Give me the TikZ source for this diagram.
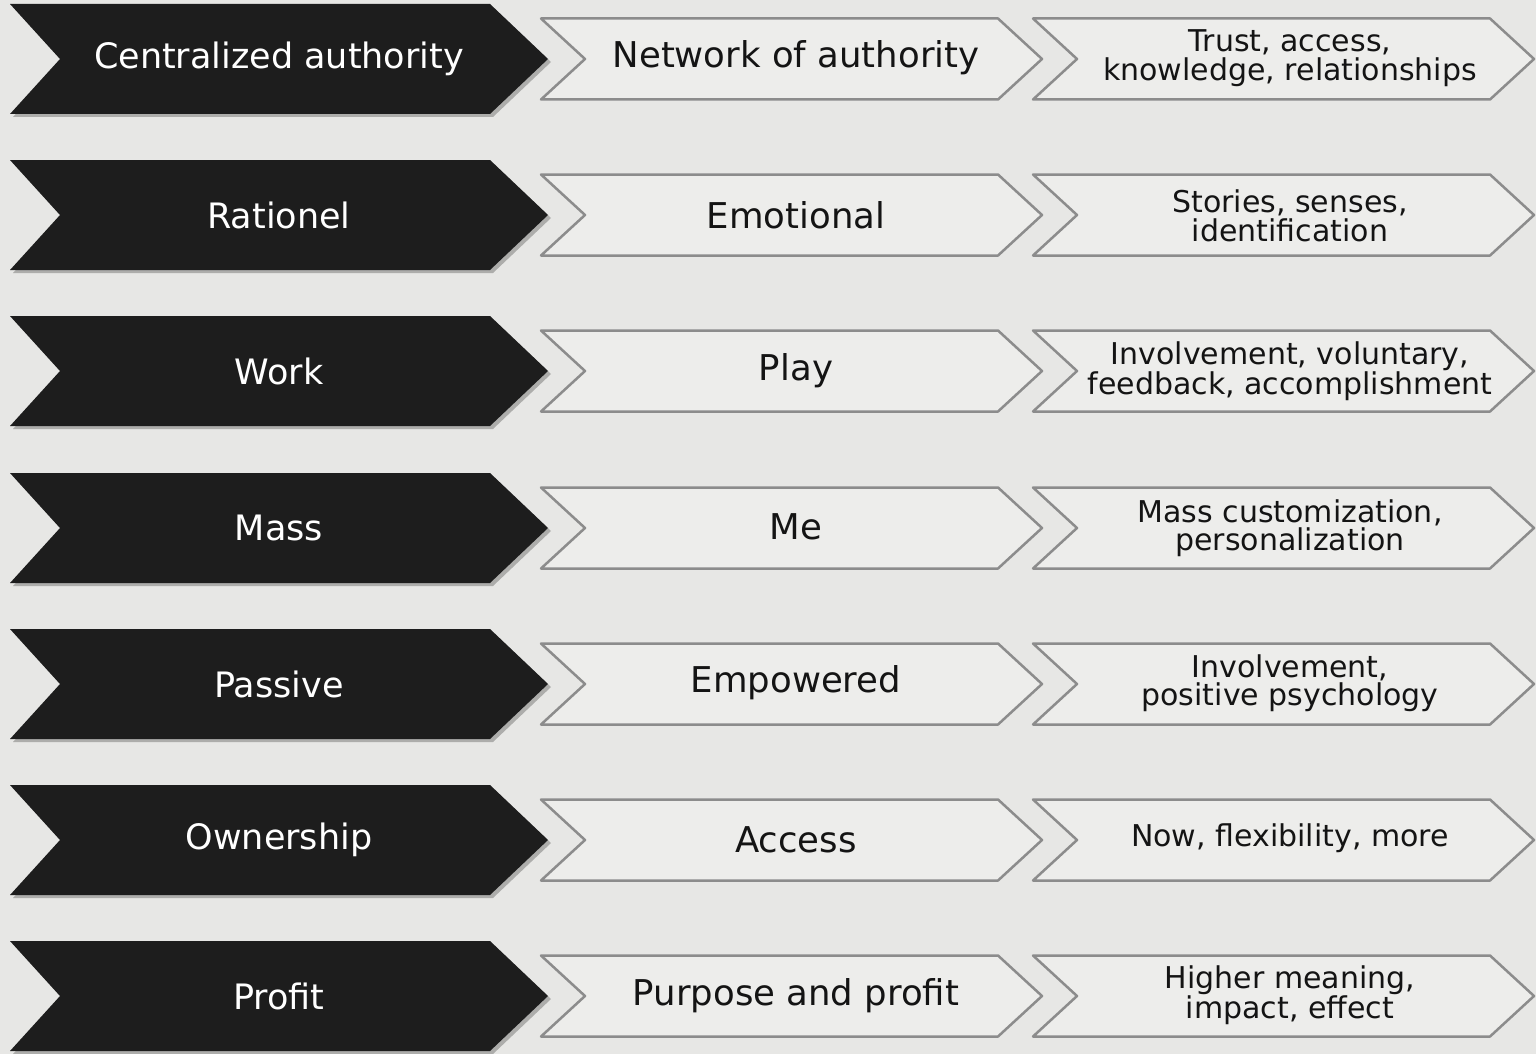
\documentclass[tikz,border=0pt]{standalone}
\usepackage{fontspec}
\setmainfont{DejaVu Sans}
\usetikzlibrary{calc}
\definecolor{paper}{HTML}{E7E7E5}
\definecolor{inkdark}{HTML}{1D1D1D}
\definecolor{rim}{HTML}{8C8C8C}
\definecolor{pale}{HTML}{EDEDEB}
\tikzset{
  darklabel/.style={text=white, font=\fontsize{35}{40}\selectfont, inner sep=0pt},
  midlabel/.style={text=black!92, font=\fontsize{35.5}{40}\selectfont, inner sep=0pt},
  sidelabel/.style={text=black!92, font=\fontsize{30}{28.5}\selectfont, align=center, inner sep=0pt}
}
\newcommand{\darkchev}[3]{ \fill[black, opacity=0.25] ( 13 , #1 - 52 ) -- ( 493 , #1 - 52 ) -- ( 551 , #1 + 3 ) -- ( 493 , #1 + 58 ) -- ( 13 , #1 + 58 ) -- ( 63 , #1 + 3 ) -- cycle; \fill[inkdark] ( 10 , #1 - 55 ) -- ( 490 , #1 - 55 ) -- ( 548 , #1 ) -- ( 490 , #1 + 55 ) -- ( 10 , #1 + 55 ) -- ( 60 , #1 ) -- cycle; \node[darklabel] (#2) at ( 279 , #1 ) {#3};}
\newcommand{\palechev}[2]{ \draw[rim, fill=pale, line width=2.5pt, line join=round] ( #1 , #2 - 40.5 ) -- ( #1 + 457 , #2 - 40.5 ) -- ( #1 + 501 , #2 ) -- ( #1 + 457 , #2 + 40.5 ) -- ( #1 , #2 + 40.5 ) -- ( #1 + 44 , #2 ) -- cycle;}

\begin{document}
\begin{tikzpicture}[x=1pt, y=-1pt]
        \fill[paper] ( 0 , 0 ) rectangle ( 1536 , 1054 );
        \useasboundingbox ( 0 , 0 ) rectangle ( 1536 , 1054 );
        % row1
        \darkchev{59}{old1}{Centralized authority}
        \palechev{541}{59} \node[midlabel] (new1) at ( 796 , 58 ) {Network of authority};
        \palechev{1033}{59} \node[sidelabel] (why1) at ( 1290 , 58 ) {Trust, access,\\knowledge, relationships};
        % row2
        \darkchev{215}{old2}{Rationel}
        \palechev{541}{215} \node[midlabel] (new2) at ( 796 , 215 ) {Emotional};
        \palechev{1033}{215} \node[sidelabel] (why2) at ( 1290 , 216 ) {Stories, senses,\\identification};
        % row3
        \darkchev{371}{old3}{Work}
        \palechev{541}{371} \node[midlabel] (new3) at ( 796 , 371 ) {Play};
        \palechev{1033}{371} \node[sidelabel] (why3) at ( 1290 , 371 ) {Involvement, voluntary,\\feedback, accomplishment};
        % row4
        \darkchev{528}{old4}{Mass}
        \palechev{541}{528} \node[midlabel] (new4) at ( 796 , 527 ) {Me};
        \palechev{1033}{528} \node[sidelabel] (why4) at ( 1290 , 528 ) {Mass customization,\\personalization};
        % row5
        \darkchev{684}{old5}{Passive}
        \palechev{541}{684} \node[midlabel] (new5) at ( 796 , 683 ) {Empowered};
        \palechev{1033}{684} \node[sidelabel] (why5) at ( 1290 , 683 ) {Involvement,\\positive psychology};
        % row6
        \darkchev{840}{old6}{Ownership}
        \palechev{541}{840} \node[midlabel] (new6) at ( 796 , 840 ) {Access};
        \palechev{1033}{840} \node[sidelabel] (why6) at ( 1290 , 838 ) {Now, flexibility, more};
        % row7
        \darkchev{996}{old7}{Profit}
        \palechev{541}{996} \node[midlabel] (new7) at ( 796 , 996 ) {Purpose and profit};
        \palechev{1033}{996} \node[sidelabel] (why7) at ( 1290 , 995 ) {Higher meaning,\\impact, effect};
\end{tikzpicture}
\end{document}
